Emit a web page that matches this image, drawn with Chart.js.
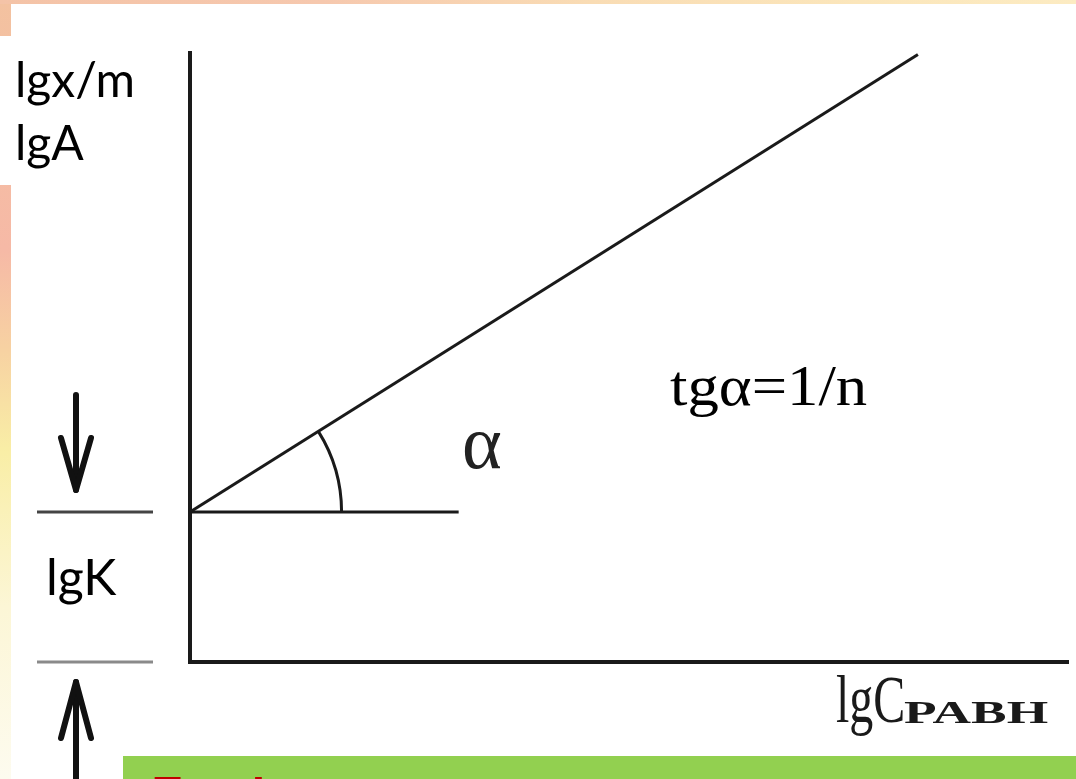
<!DOCTYPE html>
<html>
<head>
<meta charset="utf-8">
<script src="https://cdn.jsdelivr.net/npm/chart.js@4.4.1/dist/chart.umd.min.js"></script>
<style>
  html, body { margin: 0; padding: 0; }
  body {
    width: 1076px; height: 779px; overflow: hidden; position: relative;
    background: linear-gradient(180deg, #f3c2a0 0%, #f6b9a6 32%, #f7d2a2 45%, #f9eea6 58%, #fcf6d6 78%, #fdfbef 100%);
  }
  #topband {
    position: absolute; left: 0; top: 0; width: 1076px; height: 4px;
    background: linear-gradient(90deg, #f4c3a7 0%, #f6c8ae 30%, #f9dcb4 55%, #fbe6bb 80%, #fcebc2 100%);
  }
  #panel { position: absolute; left: 11px; top: 4px; right: 0; bottom: 0; background: #fff; }
  #labelbox { position: absolute; left: 0; top: 36px; width: 187px; height: 149px; background: #fff; }
  canvas { position: absolute; left: 0; top: 0; }
</style>
</head>
<body>
<div id="topband"></div>
<div id="panel"></div>
<div id="labelbox"></div>
<canvas id="chart" width="1076" height="779"></canvas>
<script>
// Freundlich isotherm in log form: lg(x/m) = lgK + (1/n)·lgC
const lgC = [0, 4.85];          // lg of equilibrium concentration
const lgA = [1.0, 4.05];        // lg x/m at the two ends of the line
const lgK = 1.0;                // intercept on the y axis
const baseX = [0, 1.79];        // horizontal reference from the intercept
const arcRadius = 1.01;         // angle arc radius, in lgC units
const xMax = 5.85;
const yMax = 4.06;

const ink = '#1a1a1a';

const annotations = {
  id: 'annotations',
  afterDraw(chart) {
    const { ctx, scales: { x, y } } = chart;
    const ox = x.getPixelForValue(0);
    const oy = y.getPixelForValue(lgK);
    const y0 = y.getPixelForValue(0);

    // angle between the isotherm and the horizontal
    const ang = Math.atan2(y.getPixelForValue(lgA[0]) - y.getPixelForValue(lgA[1]),
                           x.getPixelForValue(lgC[1]) - x.getPixelForValue(lgC[0]));
    const r = x.getPixelForValue(arcRadius) - ox;
    ctx.save();
    ctx.strokeStyle = ink;
    ctx.lineWidth = 3;
    ctx.beginPath();
    ctx.arc(ox, oy, r, -ang, 0);
    ctx.stroke();

    // lgK bracket on the left: marker lines and arrows
    ctx.lineWidth = 3;
    ctx.strokeStyle = '#444';
    ctx.beginPath(); ctx.moveTo(37, oy); ctx.lineTo(153, oy); ctx.stroke();
    ctx.strokeStyle = '#8a8a8a';
    ctx.beginPath(); ctx.moveTo(37, y0); ctx.lineTo(153, y0); ctx.stroke();

    ctx.strokeStyle = '#111';
    ctx.lineWidth = 6;
    ctx.lineCap = 'round';
    ctx.lineJoin = 'round';
    // down arrow
    ctx.beginPath(); ctx.moveTo(76, 395); ctx.lineTo(76, oy - 22); ctx.stroke();
    ctx.beginPath(); ctx.moveTo(61, oy - 74); ctx.lineTo(76, oy - 22); ctx.lineTo(91, oy - 74); ctx.stroke();
    // up arrow
    ctx.beginPath(); ctx.moveTo(76, 779); ctx.lineTo(76, y0 + 20); ctx.stroke();
    ctx.beginPath(); ctx.moveTo(61, y0 + 76); ctx.lineTo(76, y0 + 20); ctx.lineTo(91, y0 + 76); ctx.stroke();

    // text
    ctx.fillStyle = '#000';
    ctx.textBaseline = 'alphabetic';
    ctx.textAlign = 'left';
    ctx.font = '48px Lato';
    ctx.fillText('lgx/m', 15, 97);
    ctx.fillText('lgA', 15, 160);
    ctx.font = '50px Lato';
    ctx.fillText('lgK', 46, 595);

    ctx.fillStyle = '#222';
    ctx.font = '76px "Liberation Serif"';
    ctx.fillText('α', 462, 468);

    ctx.fillStyle = '#000';
    ctx.save();
    ctx.translate(670, 405);
    ctx.scale(1.12, 1);
    ctx.font = '56px "Liberation Serif"';
    ctx.fillText('tgα=1/n', 0, 0);
    ctx.restore();

    // x axis title with subscript
    ctx.fillStyle = '#1a1a1a';
    ctx.save();
    ctx.translate(836, 722);
    ctx.scale(1, 1.4);
    ctx.font = '48px "Liberation Serif"';
    ctx.fillText('lgC', 0, 0);
    ctx.restore();
    ctx.save();
    ctx.translate(904, 723);
    ctx.scale(1.72, 1);
    ctx.font = 'bold 31px "Liberation Serif"';
    ctx.fillText('PABH', 0, 0);
    ctx.restore();

    // green caption strip along the bottom
    ctx.fillStyle = '#92d050';
    ctx.fillRect(123, 756, 953, 23);
    ctx.fillStyle = '#c00000';
    ctx.font = 'bold 58px Lato';
    ctx.fillText('Графическое определение констант Фрейндлиха', 150, 819);
    ctx.restore();
  }
};

new Chart(document.getElementById('chart'), {
  type: 'scatter',
  data: {
    datasets: [
      {
        data: lgC.map((v, i) => ({ x: v, y: lgA[i] })),
        showLine: true,
        borderColor: ink,
        borderWidth: 3,
        pointRadius: 0
      },
      {
        data: baseX.map(v => ({ x: v, y: lgK })),
        showLine: true,
        borderColor: ink,
        borderWidth: 3,
        pointRadius: 0
      }
    ]
  },
  options: {
    responsive: false,
    devicePixelRatio: 1,
    animation: false,
    events: [],
    layout: { padding: { left: 190, top: 53, right: 8, bottom: 117 } },
    plugins: { legend: { display: false }, tooltip: { enabled: false } },
    scales: {
      x: {
        type: 'linear', min: 0, max: xMax,
        grid: { display: false, drawTicks: false },
        ticks: { display: false },
        border: { display: true, color: ink, width: 4 }
      },
      y: {
        type: 'linear', min: 0, max: yMax,
        grid: { display: false, drawTicks: false },
        ticks: { display: false },
        border: { display: true, color: ink, width: 4 }
      }
    }
  },
  plugins: [annotations]
});
</script>
</body>
</html>
